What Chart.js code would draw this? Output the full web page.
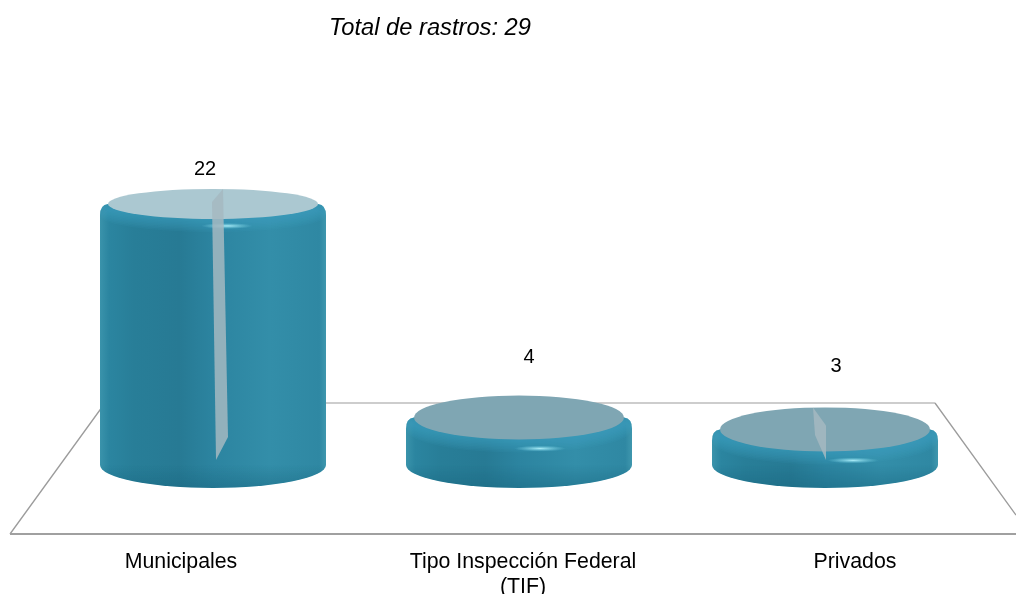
<!DOCTYPE html>
<html>
<head>
<meta charset="utf-8">
<style>
  html, body { margin: 0; padding: 0; background: #fff; }
  canvas { display: block; }
</style>
<script src="https://cdn.jsdelivr.net/npm/chart.js@4"></script>
</head>
<body>
<canvas id="rastros-chart" width="1016" height="594"></canvas>
<script>
const chartTitle = 'Total de rastros: 29';
const categories = ['Municipales', ['Tipo Inspección Federal', '(TIF)'], 'Privados'];
const rastros = [22, 4, 3];

// look of each cylinder
const faceColors = ['#abc8d1', '#7fa6b3', '#7fa6b3'];
const faceDepth = [15, 22, 22];
const valueShift = [[-8, -19], [10, -38], [11, -41]];
const categoryShift = [-32, 4, 30];
const glintShift = [[14, 7], [21, 9], [28, 9]];
// glass sliver, offsets from the bar centre; y of first two from the top of the face, last two from the floor
const slivers = [
  [[10, 0], [-1, 13], [3, -5], [15, -28]],
  null,
  [[-12, 0], [1, 18], [1, -5], [-10, -30]]
];

const baseDepth = 23;
const bevel = 8;

function drawCylinder(ctx, bar, i) {
  const cx = bar.x;
  const rx = bar.width / 2;
  const left = cx - rx;
  const right = cx + rx;
  const ry = faceDepth[i];
  const top = bar.y;
  const base = bar.base;

  const side = ctx.createLinearGradient(left, 0, right, 0);
  side.addColorStop(0, '#3a93ab');
  side.addColorStop(0.04, '#2b85a0');
  side.addColorStop(0.15, '#287e98');
  side.addColorStop(0.35, '#277a94');
  side.addColorStop(0.5, '#2c84a0');
  side.addColorStop(0.75, '#338ea9');
  side.addColorStop(0.97, '#2f88a3');
  side.addColorStop(1, '#3f97ae');

  ctx.save();
  ctx.filter = 'blur(0.6px)';
  const body = new Path2D();
  body.ellipse(cx, base, rx, baseDepth, 0, Math.PI, 0, true);
  body.lineTo(right, top + 11);
  body.quadraticCurveTo(right, top + 1, right - bevel, top);
  body.lineTo(left + bevel, top);
  body.quadraticCurveTo(left, top + 1, left, top + 11);
  body.closePath();
  ctx.fillStyle = side;
  ctx.fill(body);

  ctx.save();
  ctx.clip(body);

  // darker foot of the side wall
  const foot = ctx.createLinearGradient(0, base, 0, base + baseDepth);
  foot.addColorStop(0, 'rgba(20,95,120,0)');
  foot.addColorStop(1, 'rgba(20,95,120,0.4)');
  ctx.beginPath();
  ctx.ellipse(cx, base, rx, baseDepth, 0, Math.PI, 0, true);
  ctx.closePath();
  ctx.fillStyle = foot;
  ctx.fill();

  // shoulder under the face, stacked so it fades along the curve
  ctx.fillStyle = 'rgba(70,170,195,0.09)';
  for (let k = 0; k < 9; k++) {
    ctx.beginPath();
    ctx.ellipse(cx, top + k * 1.5, rx, ry + 1, 0, 0, Math.PI * 2);
    ctx.fill();
  }
  ctx.restore();

  // top face
  ctx.beginPath();
  ctx.ellipse(cx, top, rx - bevel, ry, 0, 0, Math.PI * 2);
  ctx.fillStyle = faceColors[i];
  ctx.fill();

  // little highlight on the rim
  const glint = ctx.createRadialGradient(0, 0, 0, 0, 0, 1);
  glint.addColorStop(0, 'rgba(175,240,250,0.95)');
  glint.addColorStop(1, 'rgba(120,210,230,0)');
  ctx.save();
  ctx.translate(cx + glintShift[i][0], top + ry + glintShift[i][1]);
  ctx.scale(26, 3);
  ctx.beginPath();
  ctx.arc(0, 0, 1, 0, Math.PI * 2);
  ctx.fillStyle = glint;
  ctx.fill();
  ctx.restore();

  // glass sliver
  if (slivers[i]) {
    const s = slivers[i];
    const faceTop = top - ry;
    ctx.beginPath();
    ctx.moveTo(cx + s[0][0], faceTop + s[0][1]);
    ctx.lineTo(cx + s[1][0], faceTop + s[1][1]);
    ctx.lineTo(cx + s[2][0], base + s[2][1]);
    ctx.lineTo(cx + s[3][0], base + s[3][1]);
    ctx.closePath();
    ctx.fillStyle = 'rgba(165,185,193,0.85)';
    ctx.fill();
  }
  ctx.restore();
}

const cylinderPlugin = {
  id: 'cylinders',
  beforeDatasetsDraw(chart) {
    // floor of the 3d box
    const { ctx, chartArea, width } = chart;
    const b = chartArea.bottom;
    ctx.save();
    ctx.lineWidth = 1.3;
    ctx.strokeStyle = '#bdbdbd';
    ctx.beginPath();
    ctx.moveTo(105, b - 62);
    ctx.lineTo(935, b - 62);
    ctx.stroke();
    ctx.strokeStyle = '#9c9c9c';
    ctx.beginPath();
    ctx.moveTo(935, b - 62);
    ctx.lineTo(width, b + 50);
    ctx.moveTo(105, b - 62);
    ctx.lineTo(10, b + 69);
    ctx.stroke();
    ctx.strokeStyle = '#a0a0a0';
    ctx.lineWidth = 2;
    ctx.beginPath();
    ctx.moveTo(10, b + 69);
    ctx.lineTo(width, b + 69);
    ctx.stroke();
    ctx.restore();
  },
  beforeDatasetDraw(chart) {
    chart.getDatasetMeta(0).data.forEach((bar, i) => drawCylinder(chart.ctx, bar, i));
    return false;
  },
  afterDatasetsDraw(chart) {
    const { ctx, chartArea } = chart;
    const b = chartArea.bottom;
    ctx.save();
    ctx.fillStyle = '#000';
    ctx.textAlign = 'center';
    ctx.textBaseline = 'middle';
    ctx.font = '20px "Liberation Sans"';
    chart.getDatasetMeta(0).data.forEach((bar, i) => {
      const topEdge = bar.y - faceDepth[i];
      ctx.fillText(String(rastros[i]), bar.x + valueShift[i][0], topEdge + valueShift[i][1]);
    });

    // category labels sit off the bar centres in the original
    ctx.font = '21.3px "Liberation Sans"';
    chart.getDatasetMeta(0).data.forEach((bar, i) => {
      [].concat(categories[i]).forEach((line, n) => {
        ctx.fillText(line, bar.x + categoryShift[i], b + 97 + n * 25.5);
      });
    });

    ctx.font = 'italic 23.7px "Liberation Sans"';
    ctx.fillText(chartTitle, 430, 28);
    ctx.restore();
  }
};

new Chart(document.getElementById('rastros-chart').getContext('2d'), {
  type: 'bar',
  data: {
    labels: categories,
    datasets: [{
      data: rastros,
      backgroundColor: '#2b85a0',
      barPercentage: 226 / 306,
      categoryPercentage: 1
    }]
  },
  options: {
    responsive: false,
    animation: false,
    layout: { padding: { left: 60, right: 38, top: 109, bottom: 0 } },
    plugins: { legend: { display: false }, tooltip: { enabled: false } },
    scales: {
      x: {
        grid: { display: false },
        border: { display: false },
        afterFit(scale) { scale.height = 129; },
        ticks: { display: false }
      },
      y: { display: false, min: 0, max: 30 }
    }
  },
  plugins: [cylinderPlugin]
});
</script>
</body>
</html>
